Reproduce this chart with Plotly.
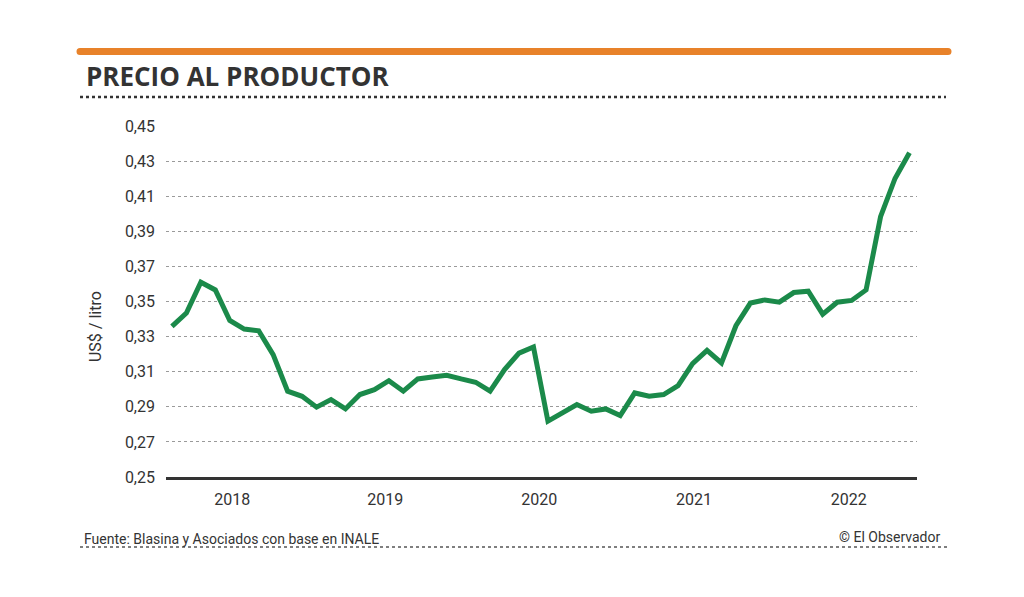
import plotly.graph_objects as go

# Data: monthly producer price, US$/litro
prices = [0.3358, 0.3434, 0.3610, 0.3566, 0.3392, 0.3343, 0.3333, 0.3197, 0.2989, 0.2960,
          0.2898, 0.2941, 0.2888, 0.2970, 0.2998, 0.3049, 0.2989, 0.3059, 0.3070, 0.3080,
          0.3059, 0.3040, 0.2989, 0.3112, 0.3206, 0.3241, 0.2818, 0.2866, 0.2913, 0.2875,
          0.2888, 0.2850, 0.2979, 0.2960, 0.2970, 0.3021, 0.3146, 0.3222, 0.3150, 0.3362,
          0.3491, 0.3509, 0.3496, 0.3551, 0.3559, 0.3428, 0.3496, 0.3506, 0.3566, 0.3983,
          0.4201, 0.4347]
idx = list(range(len(prices)))

year_labels = ["2018", "2019", "2020", "2021", "2022"]
year_pos = [4.17, 14.75, 25.4, 36.1, 46.8]

y_ticks = [0.25, 0.27, 0.29, 0.31, 0.33, 0.35, 0.37, 0.39, 0.41, 0.43, 0.45]
y_tick_text = [f"{v:.2f}".replace(".", ",") for v in y_ticks]

# the page body adds an 8px offset; work in reference pixel coordinates
OFF = 8
W, H = 1024 - OFF, 597 - OFF
ML, MT = 166 - OFF, 126 - OFF
MR = W - (917 - OFF)
MB = H - (477 - OFF)
PW, PH = W - ML - MR, H - MT - MB


def px(x):
    return (x - OFF - ML) / PW


def py(y):
    return 1 - (y - OFF - MT) / PH


FONT = "Liberation Sans Narrow, Roboto, Open Sans, sans-serif"
DARK = "#333333"

fig = go.Figure()
fig.add_trace(go.Scatter(
    x=idx, y=prices, mode="lines",
    line=dict(color="#1b8a4a", width=5, shape="linear"),
    hoverinfo="y", showlegend=False,
))

fig.update_layout(
    width=W, height=H,
    margin=dict(l=ML, r=MR, t=MT, b=MB),
    paper_bgcolor="white", plot_bgcolor="white",
    font=dict(family=FONT, color=DARK, size=15),
    xaxis=dict(
        range=[-0.41, 51.52],
        tickvals=year_pos, ticktext=year_labels,
        showgrid=False, zeroline=False,
        showline=True, linecolor=DARK, linewidth=3,
        ticks="", ticklabelstandoff=6,
        tickfont=dict(size=16, family=FONT, color=DARK),
        fixedrange=True,
    ),
    yaxis=dict(
        range=[0.25, 0.45],
        tickvals=y_ticks, ticktext=y_tick_text,
        showgrid=True, gridcolor="#9a9a9a", gridwidth=1, griddash="dot",
        zeroline=False, showline=False, ticks="",
        ticklabelstandoff=10,
        tickfont=dict(size=16, family=FONT, color=DARK),
        fixedrange=True,
    ),
    shapes=[
        # orange header bar
        dict(type="line", xref="paper", yref="paper",
             x0=px(80), x1=px(948), y0=py(51.5), y1=py(51.5),
             line=dict(color="#e8822a", width=7)),
        dict(type="circle", xref="paper", yref="paper",
             x0=px(76.5), x1=px(83.5), y0=py(48), y1=py(55),
             fillcolor="#e8822a", line=dict(width=0)),
        dict(type="circle", xref="paper", yref="paper",
             x0=px(944.5), x1=px(951.5), y0=py(48), y1=py(55),
             fillcolor="#e8822a", line=dict(width=0)),
        # dotted line under title
        dict(type="line", xref="paper", yref="paper",
             x0=px(80), x1=px(946), y0=py(97), y1=py(97),
             line=dict(color=DARK, width=2.5, dash="dot")),
        # footer dotted line
        dict(type="line", xref="paper", yref="paper",
             x0=px(80), x1=px(950), y0=py(547), y1=py(547),
             line=dict(color="#555555", width=1.5, dash="dot")),
    ],
    annotations=[
        dict(text="<b>PRECIO AL PRODUCTOR</b>", xref="paper", yref="paper",
             x=px(84), y=py(76), xanchor="left", yanchor="middle", showarrow=False,
             font=dict(family="Open Sans, Lato, sans-serif", size=26, color=DARK, weight=800)),
        dict(text="US$ / litro", xref="paper", yref="paper",
             x=px(95), y=py(327), xanchor="center", yanchor="middle", showarrow=False,
             textangle=-90, font=dict(family=FONT, size=16, color=DARK)),
        dict(text="Fuente: Blasina y Asociados con base en INALE", xref="paper", yref="paper",
             x=px(82), y=py(539), xanchor="left", yanchor="middle", showarrow=False,
             font=dict(family=FONT, size=14, color=DARK)),
        dict(text="© El Observador", xref="paper", yref="paper",
             x=px(942), y=py(537), xanchor="right", yanchor="middle", showarrow=False,
             font=dict(family=FONT, size=14, color=DARK)),
    ],
)

fig.write_html("out.html", config={"displayModeBar": False})
